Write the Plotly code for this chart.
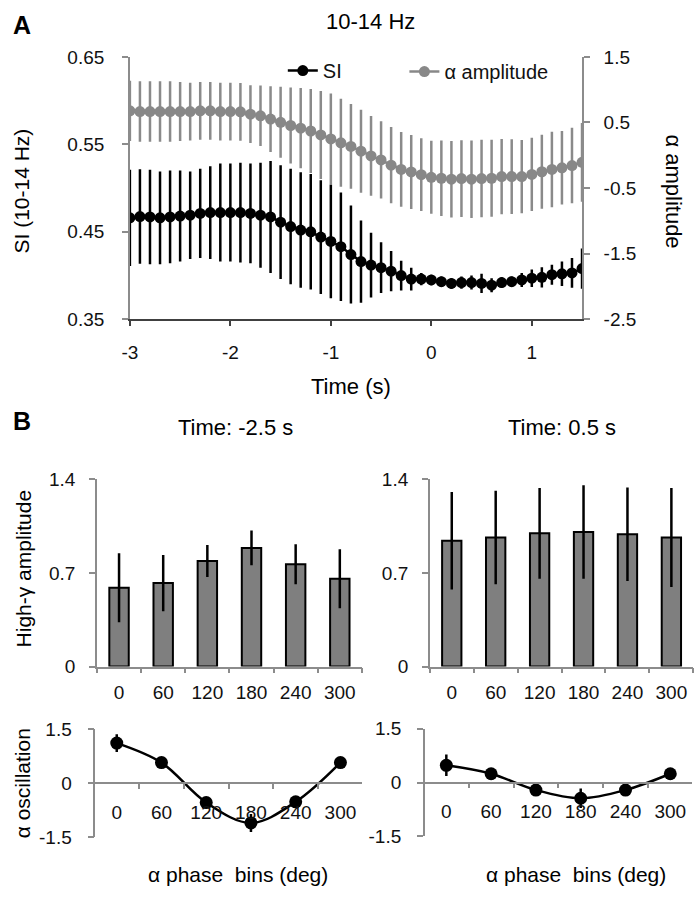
import plotly.graph_objects as go

# panel A: time course
time_s = [-3.0, -2.9, -2.8, -2.7, -2.6, -2.5, -2.4, -2.3, -2.2, -2.1,
          -2.0, -1.9, -1.8, -1.7, -1.6, -1.5, -1.4, -1.3, -1.2, -1.1,
          -1.0, -0.9, -0.8, -0.7, -0.6, -0.5, -0.4, -0.3, -0.2, -0.1,
          0.0, 0.1, 0.2, 0.3, 0.4, 0.5, 0.6, 0.7, 0.8, 0.9,
          1.0, 1.1, 1.2, 1.3, 1.4, 1.5]
si_mean = [0.466, 0.4675, 0.467, 0.466, 0.467, 0.468, 0.469, 0.471, 0.472, 0.472,
           0.472, 0.472, 0.471, 0.469, 0.467, 0.461, 0.456, 0.452, 0.450, 0.444,
           0.439, 0.433, 0.424, 0.416, 0.412, 0.409, 0.405, 0.400, 0.396, 0.396,
           0.395, 0.393, 0.391, 0.392, 0.392, 0.391, 0.389, 0.392, 0.393, 0.395,
           0.397, 0.398, 0.401, 0.402, 0.403, 0.408]
si_err = [0.055, 0.054, 0.054, 0.053, 0.053, 0.052, 0.050, 0.051, 0.053, 0.056,
          0.056, 0.057, 0.057, 0.060, 0.064, 0.065, 0.066, 0.066, 0.066, 0.065,
          0.065, 0.062, 0.056, 0.047, 0.037, 0.029, 0.023, 0.017, 0.013, 0.007,
          0.006, 0.006, 0.006, 0.007, 0.008, 0.011, 0.008, 0.006, 0.006, 0.008,
          0.010, 0.0115, 0.0115, 0.014, 0.017, 0.023]
amp_mean = [0.677, 0.667, 0.667, 0.667, 0.667, 0.667, 0.667, 0.677, 0.677, 0.667,
            0.667, 0.662, 0.627, 0.602, 0.552, 0.503, 0.454, 0.414, 0.37, 0.31,
            0.25, 0.19, 0.135, 0.062, -0.01, -0.07, -0.15, -0.216, -0.254, -0.296,
            -0.335, -0.35, -0.365, -0.355, -0.365, -0.355, -0.35, -0.325, -0.325, -0.325,
            -0.291, -0.251, -0.216, -0.191, -0.157, -0.107]
amp_err = [0.46, 0.46, 0.46, 0.46, 0.46, 0.45, 0.44, 0.44, 0.44, 0.44,
           0.44, 0.44, 0.44, 0.46, 0.50, 0.54, 0.58, 0.61, 0.64, 0.67,
           0.69, 0.67, 0.645, 0.632, 0.607, 0.59, 0.58, 0.57, 0.565, 0.555,
           0.558, 0.575, 0.583, 0.585, 0.59, 0.59, 0.588, 0.575, 0.57, 0.558,
           0.558, 0.563, 0.575, 0.56, 0.575, 0.6]
time_ticks = [-3, -2, -1, 0, 1]
si_ticks = [0.35, 0.45, 0.55, 0.65]
amp_ticks = [-2.5, -1.5, -0.5, 0.5, 1.5]

# panel B
phase_bins = ["0", "60", "120", "180", "240", "300"]
hg_early = [0.59, 0.625, 0.79, 0.888, 0.766, 0.657]
hg_early_err = [0.258, 0.21, 0.12, 0.13, 0.15, 0.22]
hg_late = [0.942, 0.966, 0.997, 1.007, 0.99, 0.966]
hg_late_err = [0.365, 0.35, 0.34, 0.35, 0.35, 0.37]
osc_early = [1.12, 0.575, -0.54, -1.11, -0.52, 0.575]
osc_early_err = [0.25, 0.05, 0.05, 0.25, 0.05, 0.04]
osc_late = [0.48, 0.245, -0.21, -0.44, -0.21, 0.245]
osc_late_err = [0.3, 0.05, 0.05, 0.27, 0.05, 0.05]
hg_ticks = [0, 0.7, 1.4]
osc_ticks = [-1.5, 0, 1.5]

W, H = 697, 899
FONT = "Liberation Sans, Arial, sans-serif"
AXGRAY = "#8c8c8c"


def px(x):
    return x / W


def py(y):
    return 1 - y / H


def labels_of(vals):
    # plain hyphen minus like the original, not plotly's unicode minus
    return [f"{v:g}" for v in vals]


fig = go.Figure()

# A: gray alpha amplitude on the right axis, SI on the left
fig.add_trace(go.Scatter(
    x=time_s, y=amp_mean, yaxis="y2", name="α amplitude", legend="legend2",
    mode="lines+markers", line=dict(color="#888888", width=2.5),
    marker=dict(color="#888888", size=11),
    error_y=dict(type="data", array=amp_err, color="#8a8a8a", thickness=2.5, width=0)))
fig.add_trace(go.Scatter(
    x=time_s, y=si_mean, yaxis="y", name="SI", legend="legend",
    mode="lines+markers", line=dict(color="black", width=2.5),
    marker=dict(color="black", size=11),
    error_y=dict(type="data", array=si_err, color="black", thickness=2.5, width=0)))

# B: bars
bar_sets = [("x3", "y3", hg_early, hg_early_err), ("x4", "y4", hg_late, hg_late_err)]
for xa, ya, vals, errs in bar_sets:
    fig.add_trace(go.Bar(
        x=phase_bins, y=vals, xaxis=xa, yaxis=ya, showlegend=False,
        marker=dict(color="#7f7f7f", line=dict(color="black", width=2)),
        error_y=dict(type="data", array=errs, color="black", thickness=2.5, width=0)))

# B: alpha oscillation
osc_sets = [("x5", "y5", osc_early, osc_early_err), ("x6", "y6", osc_late, osc_late_err)]
for xa, ya, vals, errs in osc_sets:
    fig.add_trace(go.Scatter(
        x=phase_bins, y=vals, xaxis=xa, yaxis=ya, showlegend=False,
        mode="lines+markers", line=dict(color="black", width=2.5, shape="spline"),
        marker=dict(color="black", size=13),
        error_y=dict(type="data", array=errs, color="black", thickness=2.5, width=0)))

tickfont = dict(family=FONT, size=19, color="#111")
side_axis = dict(showline=True, linecolor=AXGRAY, linewidth=1.5, ticks="outside",
                 ticklen=6, tickcolor=AXGRAY, tickwidth=1.5, showgrid=False,
                 zeroline=False, tickfont=tickfont)
legend_style = dict(orientation="h", xanchor="left", yanchor="middle",
                    font=dict(family=FONT, size=20, color="#111"),
                    bgcolor="rgba(0,0,0,0)")

fig.update_layout(
    width=W, height=H, margin=dict(l=0, r=0, t=0, b=0),
    plot_bgcolor="white", paper_bgcolor="white",
    font=dict(family=FONT, color="#111"),
    bargap=0.56,
    xaxis=dict(side_axis, domain=[px(123.3), px(580.7)], anchor="y", range=[-3, 1.5],
               tickvals=time_ticks, ticktext=labels_of(time_ticks),
               linecolor="#404040", linewidth=2,
               tickcolor="#404040", ticklen=5, ticklabelstandoff=10),
    yaxis=dict(side_axis, domain=[py(316.7), py(48)], anchor="x", range=[0.35, 0.65],
               tickvals=si_ticks, ticktext=labels_of(si_ticks), ticklabelstandoff=14),
    yaxis2=dict(side_axis, overlaying="y", side="right", anchor="x", range=[-2.5, 1.5],
                tickvals=amp_ticks, ticktext=labels_of(amp_ticks), ticklabelstandoff=10),
    xaxis3=dict(side_axis, domain=[px(90), px(358)], anchor="y3", type="category",
                tickson="boundaries", ticklen=5, ticklabelstandoff=8),
    yaxis3=dict(side_axis, domain=[py(672.3), py(480.7)], anchor="x3", range=[0, 1.4],
                tickvals=hg_ticks, ticktext=labels_of(hg_ticks), ticklabelstandoff=10),
    xaxis4=dict(side_axis, domain=[px(426.7), px(693.3)], anchor="y4", type="category",
                tickson="boundaries", ticklen=5, ticklabelstandoff=8),
    yaxis4=dict(side_axis, domain=[py(672.3), py(480.7)], anchor="x4", range=[0, 1.4],
                tickvals=hg_ticks, ticktext=labels_of(hg_ticks), ticklabelstandoff=10),
    xaxis5=dict(side_axis, domain=[px(88.3), px(358)], anchor="free",
                position=(py(846.7) + py(736.7)) / 2, type="category",
                tickson="boundaries", ticklen=5, ticklabelstandoff=12),
    yaxis5=dict(side_axis, domain=[py(846.7), py(736.7)], anchor="x5", range=[-1.5, 1.5],
                tickvals=osc_ticks, ticktext=labels_of(osc_ticks), ticklabelstandoff=12),
    xaxis6=dict(side_axis, domain=[px(421.7), px(691.7)], anchor="free",
                position=(py(846) + py(736)) / 2, type="category",
                tickson="boundaries", ticklen=5, ticklabelstandoff=12),
    yaxis6=dict(side_axis, domain=[py(846), py(736)], anchor="x6", range=[-1.5, 1.5],
                tickvals=osc_ticks, ticktext=labels_of(osc_ticks), ticklabelstandoff=12),
    legend=dict(legend_style, x=px(278), y=py(62)),
    legend2=dict(legend_style, x=px(401), y=py(63)),
)

labels = [
    ("A", 3, 15, 0, 25, True, "left"),
    ("10-14 Hz", 367, 12, 0, 22, False, "center"),
    ("SI (10-14 Hz)", 14, 185, -90, 21, False, "center"),
    ("α amplitude", 673, 186, 90, 22, False, "center"),
    ("Time (s)", 347, 385, 0, 22, False, "center"),
    ("B", 3, 421, 0, 25, True, "left"),
    ("Time: -2.5 s", 230, 427, 0, 22, False, "center"),
    ("Time: 0.5 s", 560, 427, 0, 22, False, "center"),
    ("High-γ amplitude", 16, 572, -90, 21, False, "center"),
    ("α oscillation", 15, 792, -90, 21, False, "center"),
    ("α phase\u00a0 bins (deg)", 233, 885, 0, 21, False, "center"),
    ("α phase\u00a0 bins (deg)", 575, 885, 0, 21, False, "center"),
]
for text, x, y, ang, size, bold, xanchor in labels:
    fig.add_annotation(
        text=f"<b>{text}</b>" if bold else text, xref="paper", yref="paper",
        x=px(x), y=py(y), xanchor=xanchor, yanchor="middle", textangle=ang,
        showarrow=False, font=dict(family=FONT, size=size, color="black"))

# drop the default page margin so the 697x899 figure fills the window exactly
fig.write_html("out.html", config={"displayModeBar": False},
               post_script="document.body.style.margin='0';document.body.style.overflow='hidden';")
